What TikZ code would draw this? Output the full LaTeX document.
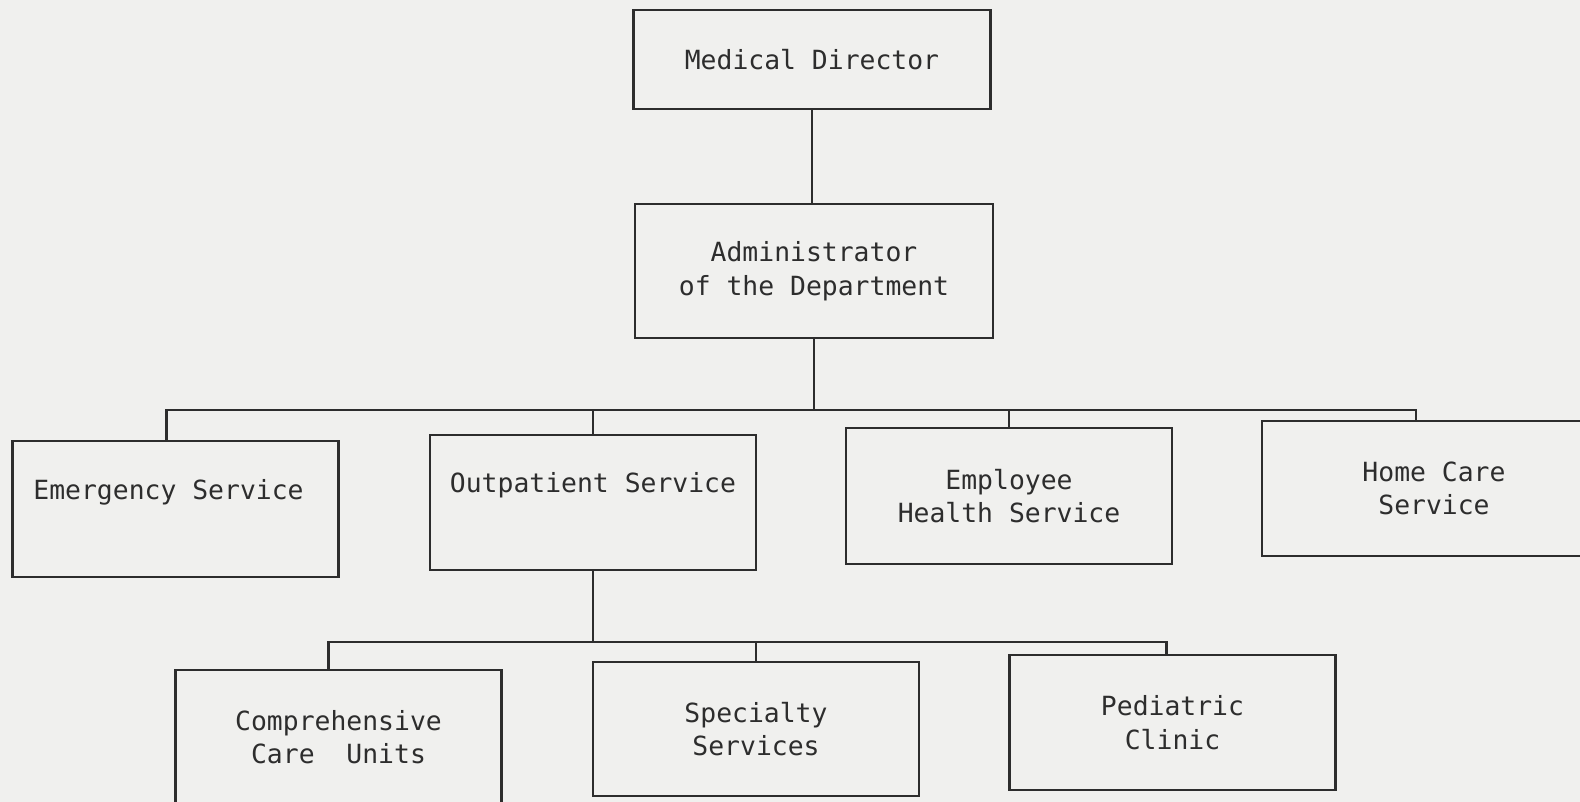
\documentclass[tikz,border=0pt]{standalone}
\usepackage{fontspec}
\setmonofont{DejaVu Sans Mono}
\definecolor{paper}{RGB}{240,240,238}
\definecolor{ink}{RGB}{45,45,45}
\tikzset{
  unit/.style={draw=ink, line width=2.8pt, minimum width=326pt, minimum height=135pt,
    inner sep=0pt, align=center, text=ink,
    font=\ttfamily\fontsize{26.4}{33.5}\selectfont},
  tie/.style={draw=ink, line width=2.8pt}
}
\newcommand{\uptext}[1]{\raisebox{17pt}[\height][\depth]{#1}}
\begin{document}
\begin{tikzpicture}[x=1pt,y=-1pt]
\useasboundingbox (0,0) rectangle (1580,802);
\clip (0,0) rectangle (1580,802);
\fill[paper] (0,0) rectangle (1580,802);
% top of the chart
\node[unit, minimum width=357pt, minimum height=99pt] (md) at (812,59.5) {Medical Director};
\node[unit, minimum width=358pt, minimum height=134pt] (admin) at (814,271) {Administrator\\of the Department};
% services
\node[unit, minimum height=136pt] (emerg) at (175.5,509) {\uptext{Emergency Service\hspace*{14pt}}};
\node[unit] (outpat) at (593,502.5) {\uptext{Outpatient Service}};
\node[unit, minimum height=136pt] (employee) at (1009,496) {Employee\\Health Service};
\node[unit, minimum width=344pt] (homecare) at (1434,488.5) {Home Care\\Service};
% under the outpatient service
\node[unit, minimum height=134pt] (compcare) at (338.5,737) {Comprehensive\\Care\ \ Units};
\node[unit, minimum height=134pt] (specialty) at (756,729) {Specialty\\Services};
\node[unit] (pediatric) at (1172.5,722.5) {Pediatric\\Clinic};
\coordinate (bar1) at (814,410);
\coordinate (bar2) at (593,642);
\draw[tie] (md.south) -- (md.south |- admin.north);
\draw[tie] (admin.south) -- (bar1);
\draw[tie] (bar1) -| ([xshift=-9pt]emerg.north);
\draw[tie] (bar1) -| (outpat.north);
\draw[tie] (bar1) -| (employee.north);
\draw[tie] (bar1) -| ([xshift=-18pt]homecare.north);
\draw[tie] (outpat.south) -- (bar2);
\draw[tie] (bar2) -| ([xshift=-10pt]compcare.north);
\draw[tie] (bar2) -| (specialty.north);
\draw[tie] (bar2) -| ([xshift=-6pt]pediatric.north);
\end{tikzpicture}
\end{document}
